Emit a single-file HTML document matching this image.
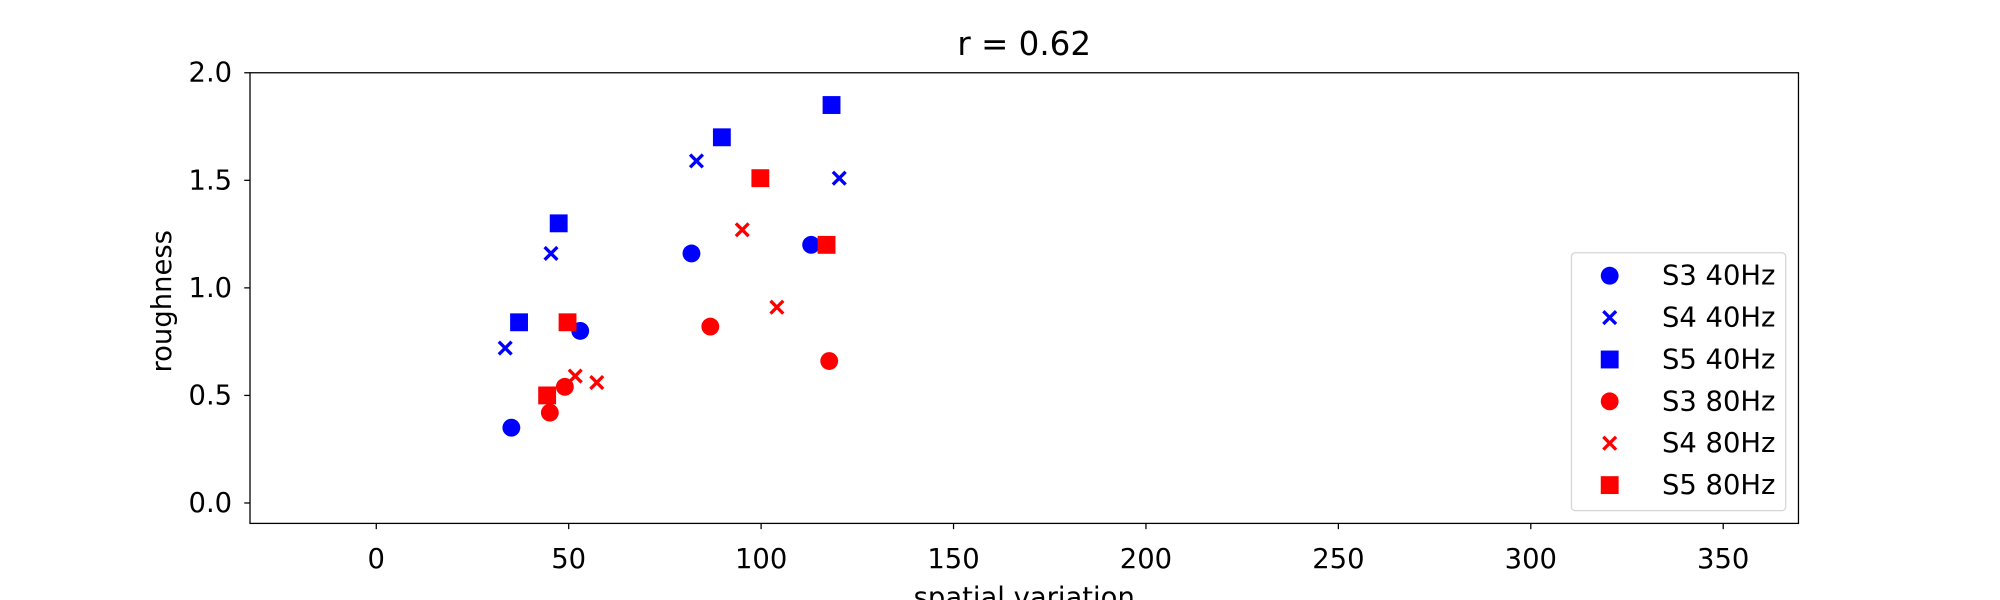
<!DOCTYPE html>
<html><head><meta charset="utf-8"><style>
html,body{margin:0;padding:0;background:#fff;}
svg{display:block;font-family:"DejaVu Sans","Liberation Sans",sans-serif;}
</style></head><body>
<svg id="chart" width="2000" height="600" viewBox="0 0 1568 470" preserveAspectRatio="none" xmlns="http://www.w3.org/2000/svg">
<text x="803" y="43" font-size="25.5" text-anchor="middle">r = 0.62</text>
<g id="marks"></g>
<rect x="196" y="57" width="1214" height="353" fill="none" stroke="#000" stroke-width="1"/>
<g id="xticks"></g><g id="yticks"></g>
<text x="803" y="475" font-size="21.5" text-anchor="middle">spatial variation</text>
<text transform="translate(134,236) rotate(-90)" font-size="21.5" text-anchor="middle">roughness</text>
<g id="legend"></g>
</svg>
<script>
const xTicks=[0,50,100,150,200,250,300,350];
const yTicks=[0.0,0.5,1.0,1.5,2.0];
const seriesNames=["S3 40Hz","S4 40Hz","S5 40Hz","S3 80Hz","S4 80Hz","S5 80Hz"];
const seriesColors=["#0000ff","#0000ff","#0000ff","#ff0000","#ff0000","#ff0000"];
const seriesShapes=["circle","x","square","circle","x","square"];
const s3_40x=[35.1,53,81.9,113],s3_40y=[0.35,0.80,1.16,1.20];
const s4_40x=[33.5,45.4,83.2,120.3],s4_40y=[0.72,1.16,1.59,1.51];
const s5_40x=[37.1,47.4,89.8,118.3],s5_40y=[0.84,1.30,1.70,1.85];
const s3_80x=[45.1,49,86.8,117.7],s3_80y=[0.42,0.54,0.82,0.66];
const s4_80x=[51.7,57.3,95.1,104.1],s4_80y=[0.59,0.56,1.27,0.91];
const s5_80x=[44.4,49.7,99.8,117],s5_80y=[0.50,0.84,1.51,1.20];
const seriesX=[s3_40x,s4_40x,s5_40x,s3_80x,s4_80x,s5_80x];
const seriesY=[s3_40y,s4_40y,s5_40y,s3_80y,s4_80y,s5_80y];

const NS="http://www.w3.org/2000/svg";
const X=v=>295+(v-0)*(1351-295)/350;
const Y=v=>394-v*(394-57)/2;
function mk(t,a){const e=document.createElementNS(NS,t);for(const k in a)e.setAttribute(k,a[k]);return e;}
function marker(shape,cx,cy,color){
  if(shape==="circle")return mk("circle",{cx:cx,cy:cy,r:7,fill:color});
  if(shape==="square")return mk("rect",{x:cx-7,y:cy-7,width:14,height:14,fill:color});
  const g=mk("g",{});
  g.appendChild(mk("path",{d:`M${cx-5} ${cy-5}L${cx+5} ${cy+5}M${cx-5} ${cy+5}L${cx+5} ${cy-5}`,stroke:color,"stroke-width":2.6,fill:"none"}));
  return g;
}
const marks=document.getElementById("marks");
seriesNames.forEach((n,i)=>{
  seriesX[i].forEach((xv,j)=>{
    const m=marker(seriesShapes[i],X(xv),Y(seriesY[i][j]),seriesColors[i]);
    
    
    marks.appendChild(m);
  });
});
const xt=document.getElementById("xticks");
xTicks.forEach(v=>{
  const l=mk("line",{x1:X(v),x2:X(v),y1:410,y2:414.5,stroke:"#000"});
  
  
  xt.appendChild(l);
  const t=mk("text",{x:X(v),y:445,"font-size":21.5,"text-anchor":"middle"});
  
  
  t.textContent=v;xt.appendChild(t);
});
const yt=document.getElementById("yticks");
yTicks.forEach(v=>{
  const l=mk("line",{x1:191.5,x2:196,y1:Y(v),y2:Y(v),stroke:"#000"});
  
  
  yt.appendChild(l);
  const t=mk("text",{x:182,y:Y(v)+7,"font-size":21.5,"text-anchor":"end"});
  
  
  t.textContent=v.toFixed(1);yt.appendChild(t);
});
const lg=document.getElementById("legend");
const box=mk("rect",{x:1232,y:198,width:168,height:202,rx:3,fill:"#fff","fill-opacity":0.8,stroke:"#d6d6d6"});


lg.appendChild(box);
seriesNames.forEach((n,i)=>{
  const cy=216+i*32.8;
  const g=mk("g",{});
  
  
  g.appendChild(marker(seriesShapes[i],1262,cy,seriesColors[i]));
  const t=mk("text",{x:1303,y:cy+7,"font-size":21.5});
  t.textContent=n;g.appendChild(t);
  lg.appendChild(g);
});
</script>
</body></html>
